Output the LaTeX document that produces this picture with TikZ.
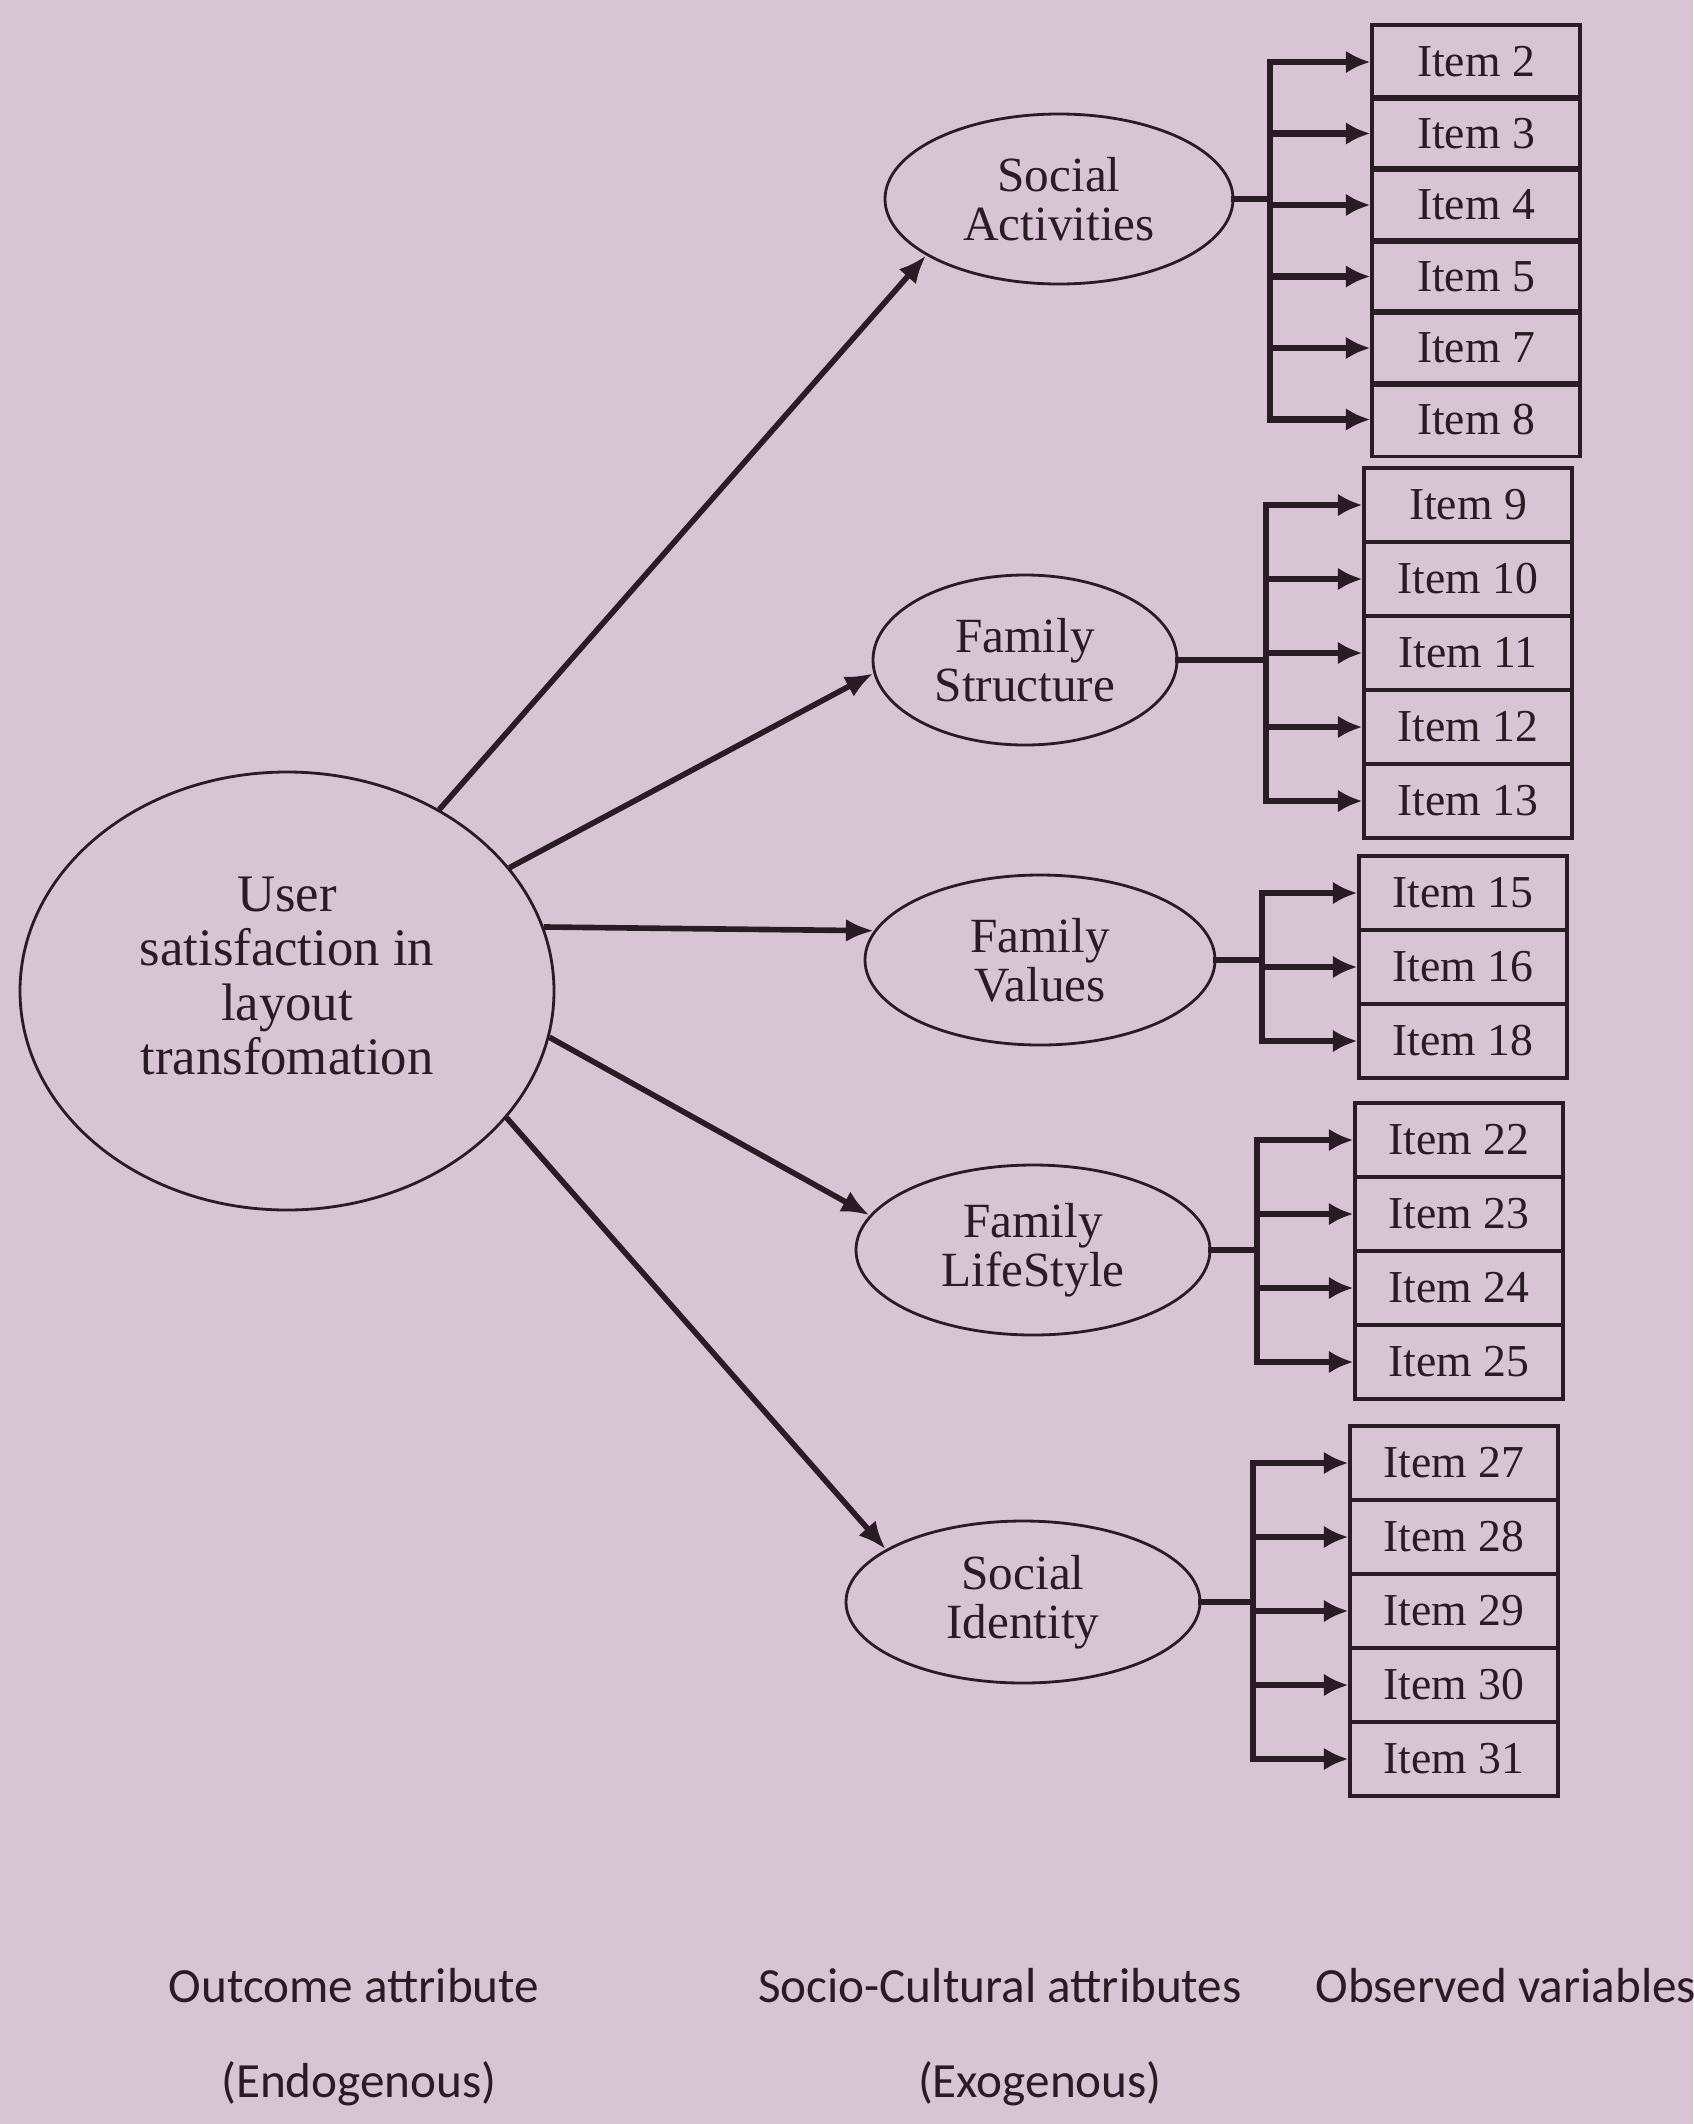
\documentclass[tikz,border=0pt]{standalone}
\usepackage{fontspec}
\setmainfont{Liberation Serif}
\newfontfamily\capfont{Carlito}
\usetikzlibrary{arrows.meta,shapes.geometric}
\definecolor{paper}{HTML}{D8C5D3}
\definecolor{ink}{HTML}{2A1C24}

\begin{document}
\begin{tikzpicture}[
    latent/.style={ellipse, draw=ink, line width=0.8pt, inner sep=0pt, align=center,
      text=ink, font=\fontsize{14}{14}\selectfont},
    itembox/.style={rectangle, draw=ink, line width=0.9pt, inner sep=0pt,
      minimum width=2.08cm, minimum height=0.74cm, text=ink,
      font=\fontsize{13}{13}\selectfont},
    regpath/.style={ink, line width=1.6pt, -{Latex[length=8pt,width=6.5pt]}},
    bus/.style={ink, line width=1.8pt, line cap=rect},
    loadarrow/.style={ink, line width=1.8pt, -{Latex[length=7pt,width=6.5pt]}},
    caption/.style={anchor=base, text=ink, font=\capfont\fontsize{14}{14}\selectfont}
  ]

  % paper
  \useasboundingbox (0,0) rectangle (16.93,-21.24);
  \fill[paper] (0,0) rectangle (16.93,-21.24);

  % outcome attribute
  \node[ellipse, draw=ink, line width=0.8pt, inner sep=0pt,
        minimum width=5.34cm, minimum height=4.38cm] (user) at (2.87,-9.91) {};
  \node[align=center, text=ink, font=\fontsize{15}{15.4}\selectfont]
        (usertext) at ([yshift=0.15cm]user.center)
        {User\\satisfaction in\\layout\\transfomation};

  % socio-cultural attributes
  \node[latent, minimum width=3.48cm, minimum height=1.70cm] (socact)  at (10.59,-1.99)  {Social\\Activities};
  \node[latent, minimum width=3.04cm, minimum height=1.70cm] (famstr)  at (10.25,-6.60)  {Family\\Structure};
  \node[latent, minimum width=3.50cm, minimum height=1.70cm] (famval)  at (10.40,-9.60)  {Family\\Values};
  \node[latent, minimum width=3.54cm, minimum height=1.70cm] (famlife) at (10.33,-12.50) {Family\\LifeStyle};
  \node[latent, minimum width=3.54cm, minimum height=1.62cm] (socid)   at (10.23,-16.02) {Social\\Identity};

  % paths
  \draw[regpath] (user.50)  -- (socact.203);
  \draw[regpath] (user.29)  -- (famstr.185);
  \draw[regpath] (user.14)  -- (famval.170);
  \draw[regpath] (user.350) -- (famlife.168);
  \draw[regpath] (user.330) -- (socid.159);

  % observed variables
  \foreach \n/\y in {2/0.62,3/1.335,4/2.05,5/2.765,7/3.48,8/4.195}
    \node[itembox] (i\n) at (14.76,-\y) {Item \n};
  \foreach \n/\y in {9/5.05,10/5.79,11/6.53,12/7.27,13/8.01}
    \node[itembox] (i\n) at (14.68,-\y) {Item \n};
  \foreach \n/\y in {15/8.93,16/9.67,18/10.41}
    \node[itembox] (i\n) at (14.63,-\y) {Item \n};
  \foreach \n/\y in {22/11.40,23/12.14,24/12.88,25/13.62}
    \node[itembox] (i\n) at (14.59,-\y) {Item \n};
  \foreach \n/\y in {27/14.63,28/15.37,29/16.11,30/16.85,31/17.59}
    \node[itembox] (i\n) at (14.54,-\y) {Item \n};

  % buses
  \coordinate (busA) at (12.70,-1.99);
  \coordinate (busB) at (12.66,-6.60);
  \coordinate (busC) at (12.62,-9.60);
  \coordinate (busD) at (12.57,-12.50);
  \coordinate (busE) at (12.53,-16.02);

  \draw[bus] (socact.east)  -- (busA);
  \draw[bus] (famstr.east)  -- (busB);
  \draw[bus] (famval.east)  -- (busC);
  \draw[bus] (famlife.east) -- (busD);
  \draw[bus] (socid.east)   -- (busE);

  \draw[bus] (i2.west -| busA)  -- (i8.west -| busA);
  \draw[bus] (i9.west -| busB)  -- (i13.west -| busB);
  \draw[bus] (i15.west -| busC) -- (i18.west -| busC);
  \draw[bus] (i22.west -| busD) -- (i25.west -| busD);
  \draw[bus] (i27.west -| busE) -- (i31.west -| busE);

  % loadings
  \foreach \n in {2,3,4,5,7,8}
    \draw[loadarrow] (i\n.west -| busA) -- (i\n.west);
  \foreach \n in {9,10,11,12,13}
    \draw[loadarrow] (i\n.west -| busB) -- (i\n.west);
  \foreach \n in {15,16,18}
    \draw[loadarrow] (i\n.west -| busC) -- (i\n.west);
  \foreach \n in {22,23,24,25}
    \draw[loadarrow] (i\n.west -| busD) -- (i\n.west);
  \foreach \n in {27,28,29,30,31}
    \draw[loadarrow] (i\n.west -| busE) -- (i\n.west);

  % column captions
  \node[caption] (outcome) at (3.54,-20.02)  {Outcome attribute};
  \node[caption] (endo)    at (3.59,-20.97)  {(Endogenous)};
  \node[caption] (socio)   at (10.00,-20.02) {Socio-Cultural attributes};
  \node[caption] (exo)     at (10.40,-20.97) {(Exogenous)};
  \node[caption, anchor=base west] (observed) at (13.03,-20.02) {Observed variables};

\end{tikzpicture}
\end{document}
